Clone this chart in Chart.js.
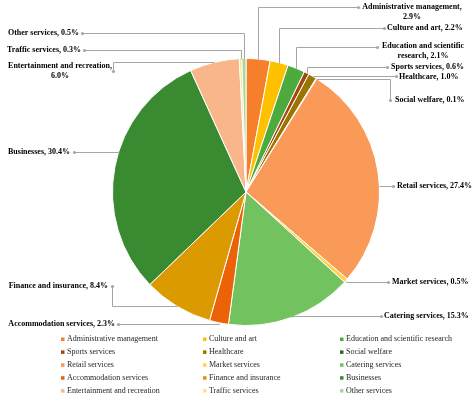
<!DOCTYPE html>
<html>
<head>
<meta charset="utf-8">
<script src="https://cdn.jsdelivr.net/npm/chart.js@4/dist/chart.umd.min.js"></script>
<style>
  html, body { margin: 0; padding: 0; background: #fff; }
  canvas { display: block; }
</style>
</head>
<body>
<canvas id="sharesChart" width="476" height="398"></canvas>
<script>
// Data //
const categories = [
  'Administrative management',
  'Culture and art',
  'Education and scientific research',
  'Sports services',
  'Healthcare',
  'Social welfare',
  'Retail services',
  'Market services',
  'Catering services',
  'Accommodation services',
  'Finance and insurance',
  'Businesses',
  'Entertainment and recreation',
  'Traffic services',
  'Other services'
]
const shares = [2.9, 2.2, 2.1, 0.6, 1.0, 0.1, 27.4, 0.5, 15.3, 2.3, 8.4, 30.4, 6.0, 0.3, 0.5]

const sliceColors = [
  '#f57f2a', '#ffc000', '#4cab3c',
  '#a14a10', '#9c7400', '#2f6a22',
  '#f99a58', '#ffd24a', '#72c25f',
  '#eb6207', '#da9a00', '#3a8a32',
  '#f9b68a', '#ffe08a', '#a8d99a'
]

// where each data label sits, and how its leader line bends
const labelLayout = [
  { x: 412, y: 7,   align: 'center', dotX: 358, dotY: 7,   route: 'hv', breakAfter: 2 },
  { x: 387, y: 28,  align: 'left',   dotX: 384, dotY: 28,  route: 'hv' },
  { x: 423, y: 46,  align: 'center', dotX: 377, dotY: 47,  route: 'hv', breakAfter: 3 },
  { x: 391, y: 67,  align: 'left',   dotX: 387, dotY: 67,  route: 'hv' },
  { x: 399, y: 77,  align: 'left',   dotX: 396, dotY: 76,  route: 'hv' },
  { x: 395, y: 100, align: 'left',   dotX: 390, dotY: 100, route: 'vh' },
  { x: 397, y: 186, align: 'left',   dotX: 393, dotY: 186, route: 'circle' },
  { x: 392, y: 282, align: 'left',   dotX: 388, dotY: 282, route: 'hv' },
  { x: 384, y: 316, align: 'left',   dotX: 381, dotY: 316, route: 'hv' },
  { x: 115, y: 324, align: 'right',  dotX: 118, dotY: 324, route: 'hv' },
  { x: 108, y: 286, align: 'right',  dotX: 112, dotY: 286, route: 'vh' },
  { x: 70,  y: 152, align: 'right',  dotX: 74,  dotY: 152, route: 'circle' },
  { x: 60,  y: 66,  align: 'center', dotX: 113, dotY: 71,  route: 'vh', breakAfter: 3 },
  { x: 81,  y: 50,  align: 'right',  dotX: 84,  dotY: 50,  route: 'hv' },
  { x: 79,  y: 33,  align: 'right',  dotX: 82,  dotY: 33,  route: 'hv' }
]

const labelFont = 'bold 8px "Liberation Serif", "Times New Roman", serif'
const legendFont = '8px "Liberation Serif", "Times New Roman", serif'
const leaderColor = '#a6a6a6'

// Leader lines + labels //
const pieLabels = {
  id: 'pieLabels',
  afterDatasetsDraw(chart) {
    const ctx = chart.ctx
    const arcs = chart.getDatasetMeta(0).data
    ctx.save()
    ctx.font = labelFont
    ctx.textBaseline = 'middle'
    arcs.forEach((arc, i) => {
      const lay = labelLayout[i]
      const p = arc.getProps(['x', 'y', 'startAngle', 'endAngle', 'outerRadius'], true)
      const mid = (p.startAngle + p.endAngle) / 2
      let px = p.x + Math.cos(mid) * p.outerRadius
      let py = p.y + Math.sin(mid) * p.outerRadius
      const pts = [[lay.dotX, lay.dotY]]
      if (lay.route === 'hv') {
        pts.push([px, lay.dotY], [px, py])
      } else if (lay.route === 'vh') {
        pts.push([lay.dotX, py], [px, py])
      } else {
        const dy = lay.dotY - p.y
        const side = lay.dotX < p.x ? -1 : 1
        px = p.x + side * Math.sqrt(Math.max(0, p.outerRadius * p.outerRadius - dy * dy))
        pts.push([px, lay.dotY])
      }
      ctx.strokeStyle = leaderColor
      ctx.lineWidth = 1
      ctx.beginPath()
      pts.forEach((pt, k) => {
        const x = Math.round(pt[0]) + 0.5, y = Math.round(pt[1]) + 0.5
        if (k === 0) ctx.moveTo(x, y)
        else ctx.lineTo(x, y)
      })
      ctx.stroke()
      ctx.fillStyle = leaderColor
      ctx.beginPath()
      ctx.arc(lay.dotX + 0.5, lay.dotY + 0.5, 1.6, 0, Math.PI * 2)
      ctx.fill()

      // text
      const full = categories[i] + ', ' + shares[i].toFixed(1) + '%'
      let lines = [full]
      if (lay.breakAfter) {
        const words = full.split(' ')
        lines = [words.slice(0, lay.breakAfter).join(' '), words.slice(lay.breakAfter).join(' ')]
      }
      ctx.fillStyle = '#000'
      ctx.textAlign = lay.align
      lines.forEach((line, k) => {
        ctx.fillText(line, lay.x, lay.y + k * 9.5)
      })
    })
    ctx.restore()
  }
}

// Legend in 3 columns //
const gridLegend = {
  id: 'gridLegend',
  afterDraw(chart) {
    const ctx = chart.ctx
    const colX = [61, 203, 340]
    const top = 339, rowH = 12.9
    ctx.save()
    ctx.font = legendFont
    ctx.textBaseline = 'middle'
    ctx.textAlign = 'left'
    categories.forEach((name, i) => {
      const x = colX[i % 3]
      const y = top + Math.floor(i / 3) * rowH
      ctx.fillStyle = sliceColors[i]
      ctx.fillRect(x, y - 1.5, 3.5, 3.5)
      ctx.fillStyle = '#262626'
      ctx.fillText(name, x + 6, y)
    })
    ctx.restore()
  }
}

const canvas = document.getElementById('sharesChart')
const pieConfig = {
  type: 'pie',
  data: {
    labels: categories,
    datasets: [{
      data: shares,
      backgroundColor: sliceColors,
      borderColor: '#ffffff',
      borderWidth: 1
    }]
  },
  options: {
    responsive: false,
    devicePixelRatio: 1,
    animation: false,
    layout: {
      padding: { top: 58, bottom: 72, left: 112, right: 96 }
    },
    plugins: {
      legend: { display: false },
      tooltip: { enabled: false }
    }
  },
  plugins: [pieLabels, gridLegend]
}

new Chart(canvas, pieConfig)
</script>
</body>
</html>
